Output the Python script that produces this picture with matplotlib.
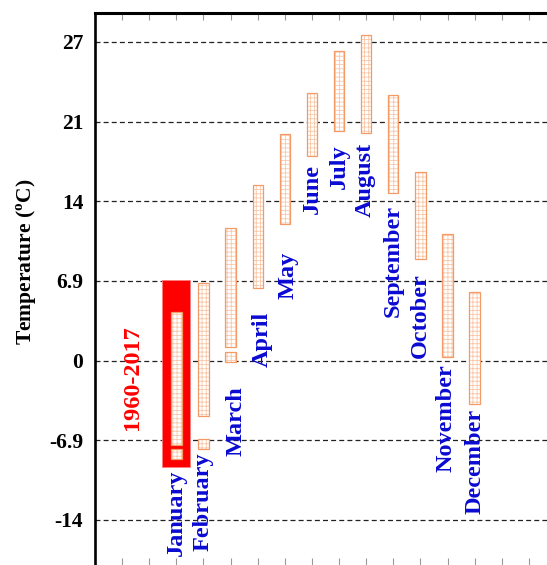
import matplotlib
matplotlib.use('Agg')
import matplotlib.pyplot as plt

plt.rcParams['font.family'] = ['Liberation Serif', 'DejaVu Serif']
plt.rcParams['font.weight'] = 'bold'
plt.rcParams['mathtext.fontset'] = 'custom'
plt.rcParams['mathtext.rm'] = 'Liberation Serif:bold'
plt.rcParams['hatch.linewidth'] = 0.6

# monthly temperature stacks 1960-2017 (deg C)
months = ['January', 'February', 'March', 'April', 'May', 'June',
          'July', 'August', 'September', 'October', 'November', 'December']
stack_hi = [4.2, 6.7, 11.5, 15.2, 19.6, 23.2, 26.8, 28.2, 23.0, 16.3, 11.0, 5.9]
stack_lo = [-7.3, -4.8, 1.2, 6.3, 11.8, 17.7, 19.9, 19.7, 14.5, 8.8, 0.3, -3.8]
# single separated years (month index, value)
outlier_month = [0, 1, 2]
outlier_val = [-8.1, -7.2, 0.3]
# highlighted January box
jan_box = [-9.2, 7.0]

yticks = [-13.8, -6.9, 0, 6.9, 13.8, 20.7, 27.6]
ytick_labels = ['-14', '-6.9', '0', '6.9', '14', '21', '27']

# label layout
label_top = [-9.4, -8.0, -2.25, 4.2, 9.4, 17.0, 18.7, 18.9, 13.5, 7.6, -0.35, -4.2]
label_dx = [0, 0, 0.2, 0.15, 0.1, 0, 0, -0.05, 0, 0, -0.05, 0]

orange = '#f39a66'
light = '#f9c7a8'
blue = '#0a0ad2'
col_w = 0.38
sq_h = 0.87

fig = plt.figure(figsize=(5.47, 5.65), dpi=100)
ax = fig.add_axes([95 / 547, 0.0, 461 / 547, 552 / 565])
ax.set_xlim(0, 17)
ax.set_ylim(-17.7, 30.1)

xs = [i + 3 for i in range(len(months))]

# grid
for y in yticks:
    ax.axhline(y, color='#222222', lw=0.9, ls=(0, (4, 2.5)), zorder=1)

# January highlight
ax.bar(xs[0], jan_box[1] - jan_box[0], bottom=jan_box[0], width=1.03,
       color='#ff0000', edgecolor='#ff8080', lw=0.6, zorder=2)


def stack(x, lo, hi):
    ax.bar(x, hi - lo, bottom=lo, width=col_w, color='white',
           edgecolor=light, hatch='++++', lw=0, zorder=3)
    ax.bar(x, hi - lo, bottom=lo, width=col_w, fill=False,
           edgecolor=orange, lw=0.9, zorder=3.5)


for i, x in enumerate(xs):
    stack(x, stack_lo[i], stack_hi[i])

for m, v in zip(outlier_month, outlier_val):
    stack(xs[m], v - sq_h / 2, v + sq_h / 2)

# month labels
for i, x in enumerate(xs):
    ax.text(x + label_dx[i], label_top[i], months[i], rotation=90,
            ha='center', va='top', color=blue, fontsize=17.5,
            fontweight='bold', zorder=4)

ax.text(1.4, -1.5, '1960-2017', rotation=90, ha='center', va='center',
        color='#ff0000', fontsize=17.5, fontweight='bold')

ax.set_yticks(yticks)
ax.set_yticklabels(ytick_labels, fontsize=15.5, fontweight='bold')
ax.tick_params(axis='y', length=0, pad=8.5)
ax.set_xticks(range(1, 17))
ax.set_xticklabels([])
ax.tick_params(axis='x', top=True, bottom=True, direction='in', length=5,
               color='#999999', width=0.8)

ax.spines['right'].set_visible(False)
ax.spines['bottom'].set_visible(False)
ax.spines['left'].set_linewidth(1.9)
ax.spines['top'].set_linewidth(2.2)

fig.text(27 / 547, 1 - 262 / 565, r'Temperature ($^{\mathrm{o}}$C)', rotation=90,
         ha='center', va='center', fontsize=15.5, fontweight='bold')

fig.savefig('out.png', dpi=100)
